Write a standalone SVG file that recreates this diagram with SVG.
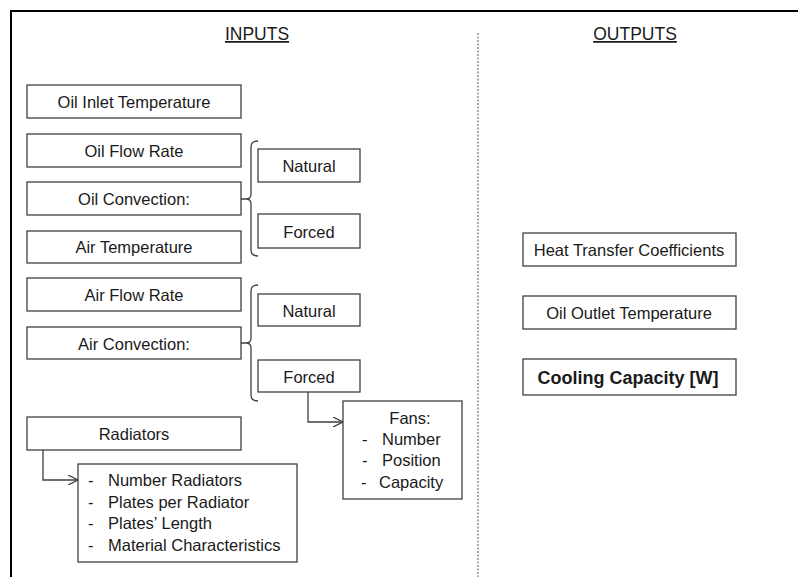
<svg xmlns="http://www.w3.org/2000/svg" width="798" height="577" viewBox="0 0 798 577">
<defs>
<style>
.box{fill:#fff;stroke:#404040;stroke-width:1.3}
.t{font-family:"Liberation Sans",Arial,sans-serif;font-size:16.5px;fill:#1a1a1a;text-anchor:middle}
.tl{font-family:"Liberation Sans",Arial,sans-serif;font-size:16.5px;fill:#1a1a1a}
.h{font-family:"Liberation Sans",Arial,sans-serif;font-size:17.5px;fill:#1a1a1a;text-anchor:middle;text-decoration:underline}
.c{fill:none;stroke:#404040;stroke-width:1.3}
</style>
<marker id="arr" viewBox="0 0 10 10" refX="10" refY="5" markerWidth="10" markerHeight="10" markerUnits="userSpaceOnUse" orient="auto">
<path d="M0,0 L10,5 L0,10" fill="none" stroke="#404040" stroke-width="1.3"/>
</marker>
</defs>
<rect width="798" height="577" fill="#fff"/>
<path d="M11,580 L11,11 L800,11" fill="none" stroke="#000" stroke-width="2"/>
<line x1="478" y1="33" x2="478" y2="577" stroke="#555" stroke-width="1" stroke-dasharray="2,1.5"/>
<text class="h" x="257" y="40">INPUTS</text>
<text class="h" x="635" y="40">OUTPUTS</text>

<g id="connectors">
<path class="c" d="M258,141 Q251,141 251,147 L251,194 Q251,199 246,199 L241,199 M246,199 Q251,199 251,204 L251,250 Q251,256 258,256"/>
<path class="c" d="M258,285 Q251,285 251,291 L251,338 Q251,343 246,343 L241,343 M246,343 Q251,343 251,348 L251,395 Q251,401 258,401"/>
<path class="c" d="M308,392 L308,422 L343,422" marker-end="url(#arr)"/>
<path class="c" d="M43,450 L43,480 L78,480" marker-end="url(#arr)"/>
</g>

<g id="oil-inlet"><rect class="box" x="27" y="85" width="214" height="33"/><text class="t" x="134" y="107.5">Oil Inlet Temperature</text></g>
<g id="oil-flow"><rect class="box" x="27" y="134" width="214" height="33"/><text class="t" x="134" y="156.5">Oil Flow Rate</text></g>
<g id="oil-conv"><rect class="box" x="27" y="182" width="214" height="33"/><text class="t" x="134" y="204.5">Oil Convection:</text></g>
<g id="air-temp"><rect class="box" x="27" y="231" width="214" height="32"/><text class="t" x="134" y="252.5">Air Temperature</text></g>
<g id="air-flow"><rect class="box" x="27" y="278" width="214" height="33"/><text class="t" x="134" y="300.5">Air Flow Rate</text></g>
<g id="air-conv"><rect class="box" x="27" y="327" width="214" height="32"/><text class="t" x="134" y="349.5">Air Convection:</text></g>
<g id="radiators"><rect class="box" x="27" y="417" width="214" height="33"/><text class="t" x="134" y="439.5">Radiators</text></g>

<g id="oil-natural"><rect class="box" x="258" y="149" width="102" height="33"/><text class="t" x="309" y="171.5">Natural</text></g>
<g id="oil-forced"><rect class="box" x="258" y="214" width="102" height="34"/><text class="t" x="309" y="237.5">Forced</text></g>
<g id="air-natural"><rect class="box" x="258" y="294" width="102" height="32"/><text class="t" x="309" y="316.5">Natural</text></g>
<g id="air-forced"><rect class="box" x="258" y="360" width="102" height="32"/><text class="t" x="309" y="382.5">Forced</text></g>

<g id="fans"><rect class="box" x="343" y="401" width="119" height="98"/>
<text class="t" x="410" y="423.5">Fans:</text>
<text class="tl" x="362" y="444.5">-</text><text class="tl" x="382" y="444.5">Number</text>
<text class="tl" x="362" y="465.5">-</text><text class="tl" x="382" y="465.5">Position</text>
<text class="tl" x="361" y="487.5">-</text><text class="tl" x="379" y="487.5">Capacity</text>
</g>

<g id="radiator-list"><rect class="box" x="78" y="464" width="219" height="98"/>
<text class="tl" x="88" y="485.5">-</text><text class="tl" x="108" y="485.5">Number Radiators</text>
<text class="tl" x="88" y="507.5">-</text><text class="tl" x="108" y="507.5">Plates per Radiator</text>
<text class="tl" x="88" y="528.5">-</text><text class="tl" x="108" y="528.5">Plates’ Length</text>
<text class="tl" x="88" y="550.5">-</text><text class="tl" x="108" y="550.5">Material Characteristics</text>
</g>

<g id="htc"><rect class="box" x="523" y="233" width="213" height="33"/><text class="t" x="629" y="255.5">Heat Transfer Coefficients</text></g>
<g id="oil-outlet"><rect class="box" x="523" y="296" width="213" height="33"/><text class="t" x="629" y="318.5">Oil Outlet Temperature</text></g>
<g id="cooling"><rect class="box" x="523" y="359" width="213" height="36"/><text class="t" x="628" y="384" style="font-size:18px;font-weight:bold">Cooling Capacity [W]</text></g>
</svg>
